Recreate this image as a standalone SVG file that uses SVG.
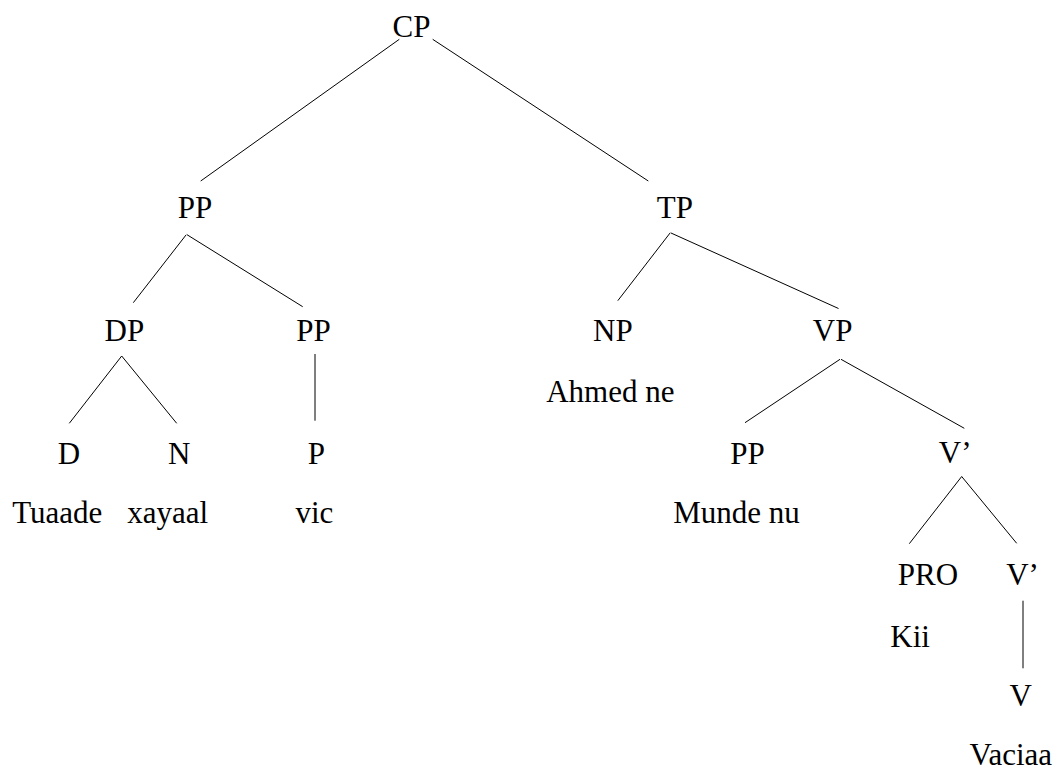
<svg xmlns="http://www.w3.org/2000/svg" width="1060" height="771" viewBox="0 0 1060 771">
  <style>
    .edge { stroke: #000; stroke-width: 1; fill: none; }
  </style>
  <rect width="1060" height="771" fill="#fff"/>

  <!-- tree branches -->
  <g id="connectors">
    <line class="edge" x1="399.3" y1="39.3" x2="200.7" y2="181"/>
    <line class="edge" x1="432.7" y1="39.3" x2="648.3" y2="181"/>
    <line class="edge" x1="186" y1="235" x2="133.3" y2="302.7"/>
    <line class="edge" x1="186.7" y1="234.5" x2="302.7" y2="306.7"/>
    <line class="edge" x1="670.3" y1="232.7" x2="617.8" y2="300.7"/>
    <line class="edge" x1="671" y1="233" x2="838.5" y2="308.5"/>
    <line class="edge" x1="121.7" y1="356" x2="69.3" y2="423.3"/>
    <line class="edge" x1="121.7" y1="356" x2="176.7" y2="423.3"/>
    <line class="edge" x1="315" y1="354" x2="315" y2="420.7"/>
    <line class="edge" x1="840" y1="359.3" x2="745" y2="422.7"/>
    <line class="edge" x1="841" y1="359.3" x2="964.3" y2="428.3"/>
    <line class="edge" x1="961.7" y1="476.5" x2="909.3" y2="543.7"/>
    <line class="edge" x1="961.7" y1="476.5" x2="1016.7" y2="543.3"/>
    <line class="edge" x1="1023" y1="600.7" x2="1023" y2="668.3"/>
  </g>

  <!-- nodes -->
  <g id="nodes" font-family="'Liberation Serif', 'DejaVu Serif', serif" font-size="31" fill="#000">
    <g id="node-cp"><text x="392.5" y="36.7">CP</text></g>
    <g id="node-pp1"><text x="177.8" y="218.3">PP</text></g>
    <g id="node-tp"><text x="656.8" y="218.3">TP</text></g>
    <g id="node-dp"><text x="104.5" y="341">DP</text></g>
    <g id="node-pp2"><text x="296.2" y="341">PP</text></g>
    <g id="node-np"><text x="593.1" y="340.7">NP</text></g>
    <g id="node-vp"><text x="812.8" y="340.7">VP</text></g>
    <g id="node-d"><text x="57.8" y="464.3">D</text></g>
    <g id="node-n"><text x="167.9" y="464.3">N</text></g>
    <g id="node-p"><text x="307.8" y="464.3">P</text></g>
    <g id="node-ahmed"><text x="546.2" y="401.7">Ahmed ne</text></g>
    <g id="node-pp3"><text x="730.2" y="464">PP</text></g>
    <g id="node-vbar1"><text x="938.8" y="463.3">V’</text></g>
    <g id="node-tuaade"><text x="12.2" y="523.3">Tuaade</text></g>
    <g id="node-xayaal"><text x="127.2" y="523.3">xayaal</text></g>
    <g id="node-vic"><text x="295.5" y="523.3">vic</text></g>
    <g id="node-munde"><text x="673.2" y="523.3">Munde nu</text></g>
    <g id="node-pro"><text x="897.8" y="585">PRO</text></g>
    <g id="node-vbar2"><text x="1006.2" y="585">V’</text></g>
    <g id="node-kii"><text x="890.3" y="646.7">Kii</text></g>
    <g id="node-v"><text x="1009.5" y="706">V</text></g>
    <g id="node-vaciaa"><text x="969.5" y="765">Vaciaa</text></g>
  </g>
</svg>
